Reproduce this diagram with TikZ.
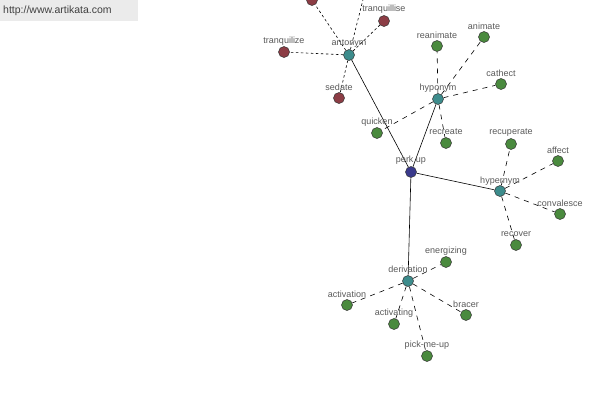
\documentclass[tikz,border=0pt]{standalone}
\usepackage{fontspec}
\setmainfont{Liberation Sans}
\begin{document}
\begin{tikzpicture}[x=1pt,y=-1pt,
  vtx/.style={circle,inner sep=0pt,minimum size=11pt},
  hub/.style={vtx},
  leaf/.style={vtx},
  root/.style={vtx},
  lbl/.style={font=\fontsize{9}{10}\selectfont,text=black!65,inner sep=0pt},
  solidlink/.style={draw=black,line width=0.6pt},
  dotlink/.style={draw=black,line width=0.6pt,dash pattern=on 2.5pt off 2.5pt},
  dashlink/.style={draw=black,line width=0.6pt,dash pattern=on 5pt off 5pt}
]
\definecolor{rednode}{HTML}{8C3D45}
\definecolor{tealnode}{HTML}{3D8C8C}
\definecolor{greennode}{HTML}{4A8A3E}
\definecolor{navynode}{HTML}{3A3A8C}
\useasboundingbox (0,0) rectangle (600,400);
\fill[fill=black!8] (0,0) rectangle (138,21);
\node[anchor=west,font=\fontsize{10.5}{12}\selectfont,text=black!75,inner sep=0pt] (wm) at (3,11) {http://www.artikata.com};
\begin{scope}
\clip (0,0) rectangle (600,400);
% nodes
\node[root] (perk) at (411,172) {};
\node[hub] (ant) at (349,55) {};
\node[hub] (hypo) at (438,99) {};
\node[hub] (hyper) at (500,191) {};
\node[hub] (der) at (408,281) {};
\node[vtx] (tze) at (284,52) {};
\node[vtx] (tse) at (384,21) {};
\node[vtx] (sed) at (339,98) {};
\node[vtx] (topr) at (312,0) {};
\coordinate (topx) at (368,-20);
\node[leaf] (rean) at (437,46) {};
\node[leaf] (anim) at (484,37) {};
\node[leaf] (cath) at (501,84) {};
\node[leaf] (quick) at (377,133) {};
\node[leaf] (recr) at (446,143) {};
\node[leaf] (recup) at (511,144) {};
\node[leaf] (aff) at (558,161) {};
\node[leaf] (conv) at (560,214) {};
\node[leaf] (recov) at (516,245) {};
\node[leaf] (ener) at (446,262) {};
\node[leaf] (actn) at (347,305) {};
\node[leaf] (actg) at (394,324) {};
\node[leaf] (brac) at (466,315) {};
\node[leaf] (pick) at (427,356) {};
% links
\draw[solidlink] (perk) -- (ant);
\draw[solidlink] (perk) -- (hypo);
\draw[solidlink] (perk) -- (hyper);
\draw[solidlink] (perk) -- (der);
\draw[dotlink] (ant) -- (tze);
\draw[dotlink] (ant) -- (tse);
\draw[dotlink] (ant) -- (sed);
\draw[dotlink] (ant) -- (topr);
\draw[dotlink] (ant) -- (topx);
\draw[dashlink] (hypo) -- (rean);
\draw[dashlink] (hypo) -- (anim);
\draw[dashlink] (hypo) -- (cath);
\draw[dashlink] (hypo) -- (quick);
\draw[dashlink] (hypo) -- (recr);
\draw[dashlink] (hyper) -- (recup);
\draw[dashlink] (hyper) -- (aff);
\draw[dashlink] (hyper) -- (conv);
\draw[dashlink] (hyper) -- (recov);
\draw[dashlink] (der) -- (ener);
\draw[dashlink] (der) -- (actn);
\draw[dashlink] (der) -- (actg);
\draw[dashlink] (der) -- (brac);
\draw[dashlink] (der) -- (pick);
% node discs
\foreach \n/\c in {perk/navynode,ant/tealnode,hypo/tealnode,hyper/tealnode,der/tealnode,
  tze/rednode,tse/rednode,sed/rednode,topr/rednode,
  rean/greennode,anim/greennode,cath/greennode,quick/greennode,recr/greennode,
  recup/greennode,aff/greennode,conv/greennode,recov/greennode,
  ener/greennode,actn/greennode,actg/greennode,brac/greennode,pick/greennode}
  \fill[fill=\c,draw=black!80,line width=0.5pt] (\n) circle (5.5pt);
% labels
\node[lbl] (l1) at ([yshift=12]perk) {perk up};
\node[lbl] (l2) at ([yshift=11]ant) {antonym};
\node[lbl] (l3) at ([yshift=11]hypo) {hyponym};
\node[lbl] (l4) at ([yshift=10]hyper) {hypernym};
\node[lbl] (l5) at ([yshift=12]der) {derivation};
\node[lbl] (l6) at ([yshift=11]tze) {tranquilize};
\node[lbl] (l7) at ([yshift=12]tse) {tranquillise};
\node[lbl] (l8) at ([yshift=11]sed) {sedate};
\node[lbl] (l9) at ([yshift=11]rean) {reanimate};
\node[lbl] (l10) at ([yshift=11]anim) {animate};
\node[lbl] (l11) at ([yshift=11]cath) {cathect};
\node[lbl] (l12) at ([yshift=11]quick) {quicken};
\node[lbl] (l13) at ([yshift=11]recr) {recreate};
\node[lbl] (l14) at ([yshift=11]recup) {recuperate};
\node[lbl] (l15) at ([yshift=11]aff) {affect};
\node[lbl] (l16) at ([yshift=11]conv) {convalesce};
\node[lbl] (l17) at ([yshift=11]recov) {recover};
\node[lbl] (l18) at ([yshift=11]ener) {energizing};
\node[lbl] (l19) at ([yshift=11]actn) {activation};
\node[lbl] (l20) at ([yshift=11]actg) {activating};
\node[lbl] (l21) at ([yshift=11]brac) {bracer};
\node[lbl] (l22) at ([yshift=11]pick) {pick-me-up};
\end{scope}
\end{tikzpicture}
\end{document}
